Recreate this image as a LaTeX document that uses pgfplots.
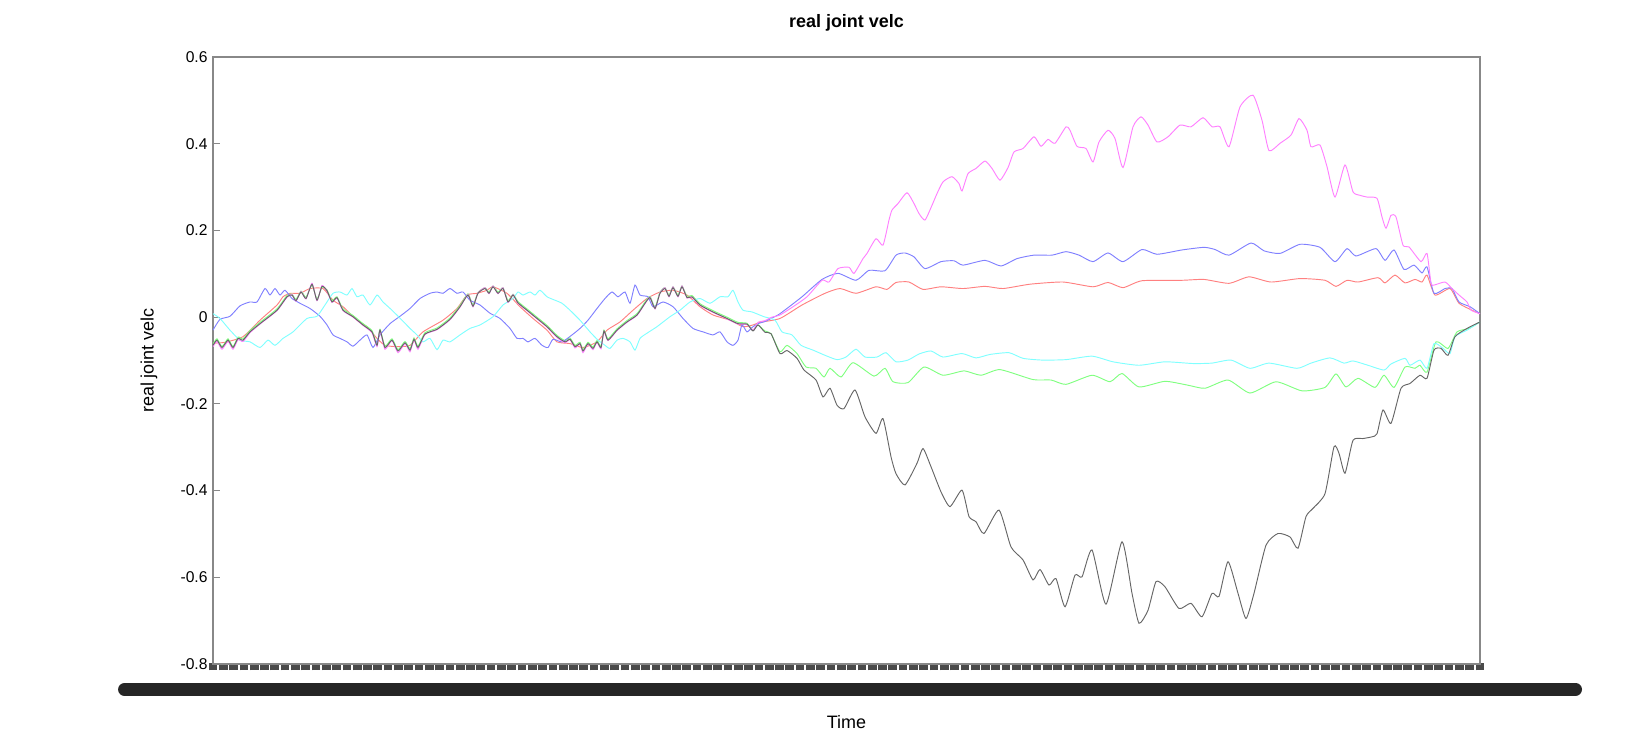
\documentclass[border=0pt]{standalone}
\usepackage{fontspec}
\setmainfont{Liberation Sans}
\usepackage{pgfplots}
\pgfplotsset{compat=1.18}
\definecolor{cR}{HTML}{FF8080}
\definecolor{cG}{HTML}{80FF80}
\definecolor{cB}{HTML}{8080FF}
\definecolor{cC}{HTML}{80FFFF}
\definecolor{cM}{HTML}{FF80FF}
\definecolor{cK}{HTML}{666666}
\definecolor{axgray}{HTML}{888888}
\definecolor{tickdark}{HTML}{4A4A4A}
\definecolor{barblack}{HTML}{262626}
\begin{document}
\begin{tikzpicture}
\path[use as bounding box] (-136.32pt,-54.4pt) rectangle (910.08pt,424.96pt);
\begin{axis}[
  scale only axis, width=810.88pt, height=388.48pt,
  xmin=213, xmax=1480, ymin=-0.8, ymax=0.6,
  axis line style={draw=axgray, line width=0.8pt},
  tick align=inside, xtick pos=bottom, ytick pos=left,
  major tick length=4.5pt,
  xtick={213,223.3,...,1480}, xticklabels={},
  xtick style={draw=tickdark, line width=5.6pt, yshift=-4.1pt},
  ytick={-0.8,-0.6,-0.4,-0.2,0,0.2,0.4,0.6},
  yticklabels={-0.8,-0.6,-0.4,-0.2,0,0.2,0.4,0.6},
  ytick style={draw=axgray, line width=0.8pt},
  yticklabel style={font=\normalsize},
  title={real joint velc},
  title style={at={(axis description cs:0.5,1)}, anchor=center, yshift=16pt, font=\bfseries\fontsize{11.5}{14}\selectfont},
  xlabel={Time},
  xlabel style={at={(axis description cs:0.5,0)}, anchor=center, yshift=-37pt, font=\fontsize{11.5}{14}\selectfont},
  ylabel={real joint velc},
  ylabel style={at={(axis description cs:0,0.5)}, anchor=center, yshift=41pt, font=\fontsize{11.5}{14}\selectfont},
  every axis plot/.append style={line width=0.6pt, mark=none, smooth, tension=0.35},
]
% red
\addplot[cR] coordinates {(213,-0.060) (225,-0.058) (243,-0.045) (260,-0.007) (277,0.028) (283,0.047) (290,0.055) (300,0.055) (310,0.066) (323,0.066) (333,0.039) (343,0.024) (357,-0.007) (367,-0.022) (377,-0.049) (385,-0.065) (397,-0.068) (410,-0.065) (423,-0.034) (443,-0.007) (457,0.020) (467,0.051) (477,0.055) (487,0.062) (493,0.070) (507,0.055) (520,0.024) (533,-0.003) (547,-0.030) (557,-0.057) (570,-0.061) (583,-0.070) (597,-0.057) (607,-0.030) (620,-0.011) (633,0.016) (647,0.043) (660,0.058) (673,0.062) (687,0.051) (700,0.024) (713,0.005) (730,-0.007) (743,-0.022) (753,-0.018) (760,-0.012) (780,-0.003) (802,0.028) (825,0.055) (840,0.066) (856,0.055) (876,0.070) (887,0.064) (896,0.080) (909,0.081) (923,0.064) (941,0.070) (963,0.066) (985,0.071) (1003,0.066) (1030,0.076) (1063,0.081) (1093,0.070) (1108,0.080) (1123,0.068) (1142,0.084) (1182,0.085) (1204,0.087) (1229,0.078) (1249,0.093) (1271,0.081) (1300,0.089) (1325,0.085) (1336,0.071) (1347,0.085) (1358,0.081) (1378,0.091) (1385,0.079) (1395,0.097) (1405,0.079) (1415,0.087) (1422,0.081) (1427,0.097) (1435,0.051) (1450,0.066) (1459,0.032) (1472,0.016) (1480,0.008)};
% green
\addplot[cG] coordinates {(213,-0.062) (217,-0.050) (222,-0.068) (228,-0.050) (233,-0.068) (238,-0.046) (243,-0.050) (250,-0.031) (260,-0.012) (277,0.019) (287,0.050) (292,0.053) (296,0.041) (301,0.060) (306,0.046) (312,0.074) (317,0.042) (322,0.069) (327,0.063) (332,0.038) (337,0.047) (343,0.019) (353,0.004) (363,-0.015) (372,-0.031) (377,-0.062) (380,-0.028) (385,-0.067) (392,-0.050) (398,-0.075) (405,-0.056) (410,-0.073) (414,-0.048) (418,-0.067) (425,-0.036) (437,-0.025) (450,-0.002) (460,0.027) (468,0.054) (473,0.028) (478,0.057) (485,0.068) (489,0.058) (493,0.072) (498,0.058) (503,0.068) (508,0.038) (513,0.053) (518,0.036) (527,0.019) (537,0.000) (547,-0.019) (557,-0.042) (565,-0.054) (570,-0.048) (575,-0.065) (580,-0.058) (583,-0.075) (588,-0.058) (593,-0.069) (597,-0.054) (601,-0.067) (604,-0.030) (608,-0.050) (617,-0.027) (627,-0.008) (637,0.008) (645,0.035) (650,0.048) (655,0.023) (660,0.058) (665,0.068) (669,0.051) (673,0.070) (678,0.051) (682,0.072) (687,0.048) (692,0.050) (700,0.031) (713,0.015) (727,0.000) (738,-0.012) (747,-0.014) (753,-0.030) (758,-0.018) (765,-0.032) (771,-0.038) (780,-0.080) (787,-0.065) (797,-0.084) (806,-0.115) (816,-0.118) (824,-0.138) (830,-0.118) (841,-0.138) (853,-0.105) (874,-0.136) (885,-0.118) (893,-0.149) (908,-0.151) (924,-0.115) (943,-0.134) (964,-0.124) (981,-0.134) (1000,-0.121) (1033,-0.144) (1051,-0.145) (1066,-0.155) (1092,-0.134) (1110,-0.149) (1122,-0.130) (1139,-0.161) (1165,-0.148) (1188,-0.157) (1205,-0.164) (1228,-0.145) (1250,-0.175) (1276,-0.149) (1302,-0.170) (1325,-0.162) (1336,-0.131) (1346,-0.161) (1358,-0.141) (1375,-0.162) (1384,-0.134) (1394,-0.162) (1405,-0.115) (1415,-0.118) (1420,-0.111) (1427,-0.127) (1436,-0.057) (1448,-0.072) (1457,-0.034) (1469,-0.026) (1480,-0.011)};
% blue
\addplot[cB] coordinates {(213,-0.030) (220,-0.005) (230,0.002) (240,0.026) (250,0.035) (257,0.035) (265,0.066) (270,0.051) (275,0.066) (280,0.051) (285,0.062) (292,0.043) (300,0.032) (310,0.020) (320,0.002) (327,-0.018) (333,-0.041) (340,-0.049) (347,-0.057) (353,-0.067) (360,-0.053) (367,-0.041) (373,-0.070) (380,-0.041) (390,-0.015) (400,0.002) (410,0.020) (420,0.043) (430,0.055) (437,0.058) (443,0.055) (450,0.066) (457,0.055) (463,0.058) (470,0.039) (480,0.028) (490,0.009) (500,-0.003) (510,-0.026) (517,-0.049) (523,-0.049) (528,-0.057) (535,-0.049) (542,-0.065) (548,-0.070) (553,-0.051) (562,-0.057) (572,-0.041) (580,-0.026) (588,-0.007) (597,0.020) (605,0.043) (612,0.058) (618,0.047) (625,0.058) (630,0.032) (635,0.074) (640,0.051) (648,0.047) (653,0.024) (663,0.035) (673,0.024) (683,-0.003) (693,-0.026) (703,-0.034) (713,-0.041) (720,-0.034) (727,-0.057) (733,-0.065) (738,-0.053) (742,-0.018) (747,-0.034) (753,-0.022) (758,-0.015) (765,-0.010) (772,-0.002) (780,0.008) (802,0.047) (822,0.087) (838,0.101) (856,0.085) (869,0.108) (885,0.107) (896,0.143) (905,0.148) (914,0.139) (925,0.112) (941,0.128) (954,0.130) (963,0.120) (985,0.131) (1001,0.118) (1017,0.135) (1034,0.143) (1052,0.143) (1066,0.151) (1079,0.143) (1093,0.128) (1108,0.148) (1123,0.128) (1142,0.156) (1157,0.145) (1182,0.155) (1204,0.161) (1215,0.156) (1229,0.143) (1251,0.171) (1264,0.153) (1280,0.147) (1300,0.168) (1320,0.161) (1335,0.128) (1347,0.158) (1356,0.141) (1376,0.158) (1385,0.131) (1394,0.155) (1404,0.110) (1414,0.120) (1422,0.102) (1427,0.116) (1434,0.055) (1445,0.066) (1452,0.066) (1459,0.035) (1470,0.024) (1480,0.008)};
% cyan
\addplot[cC] coordinates {(213,0.008) (220,-0.003) (230,-0.030) (240,-0.053) (250,-0.057) (260,-0.070) (268,-0.053) (275,-0.065) (283,-0.049) (293,-0.034) (307,-0.003) (317,0.002) (325,0.028) (333,0.055) (340,0.058) (347,0.051) (352,0.066) (357,0.047) (363,0.051) (370,0.028) (377,0.051) (383,0.035) (392,0.016) (402,-0.007) (410,-0.026) (417,-0.041) (423,-0.057) (430,-0.049) (437,-0.075) (443,-0.053) (450,-0.057) (460,-0.041) (470,-0.026) (480,-0.018) (493,0.001) (503,0.028) (513,0.043) (518,0.058) (523,0.051) (530,0.058) (535,0.051) (540,0.062) (547,0.047) (555,0.039) (562,0.032) (570,0.016) (580,-0.007) (590,-0.034) (598,-0.053) (605,-0.065) (610,-0.072) (617,-0.053) (623,-0.049) (630,-0.057) (635,-0.076) (640,-0.049) (647,-0.037) (657,-0.022) (670,0.001) (680,0.016) (690,0.035) (700,0.043) (710,0.032) (720,0.047) (728,0.047) (733,0.062) (738,0.035) (743,0.016) (752,0.012) (764,0.001) (775,-0.007) (782,-0.034) (792,-0.041) (801,-0.065) (813,-0.076) (825,-0.088) (837,-0.098) (846,-0.092) (856,-0.074) (865,-0.092) (877,-0.092) (886,-0.082) (896,-0.103) (908,-0.099) (919,-0.085) (931,-0.078) (943,-0.092) (962,-0.084) (976,-0.094) (990,-0.086) (1009,-0.082) (1023,-0.095) (1042,-0.099) (1066,-0.098) (1092,-0.090) (1113,-0.103) (1139,-0.111) (1165,-0.103) (1193,-0.107) (1212,-0.106) (1231,-0.099) (1250,-0.118) (1269,-0.106) (1297,-0.118) (1311,-0.106) (1330,-0.094) (1344,-0.106) (1353,-0.101) (1368,-0.111) (1384,-0.122) (1391,-0.108) (1405,-0.095) (1410,-0.111) (1420,-0.099) (1427,-0.118) (1434,-0.061) (1443,-0.072) (1450,-0.084) (1455,-0.045) (1467,-0.030) (1480,-0.011)};
% magenta
\addplot[cM] coordinates {(213,-0.068) (217,-0.056) (222,-0.074) (228,-0.056) (233,-0.074) (238,-0.052) (243,-0.056) (250,-0.036) (260,-0.016) (277,0.015) (287,0.046) (292,0.052) (296,0.037) (301,0.059) (306,0.042) (312,0.078) (317,0.038) (322,0.073) (327,0.060) (332,0.034) (337,0.044) (343,0.015) (353,0.000) (363,-0.019) (372,-0.036) (377,-0.068) (380,-0.031) (385,-0.074) (392,-0.054) (398,-0.082) (405,-0.061) (410,-0.080) (414,-0.052) (418,-0.074) (425,-0.040) (437,-0.029) (450,-0.006) (460,0.023) (468,0.052) (473,0.024) (478,0.056) (485,0.068) (489,0.054) (493,0.072) (498,0.054) (503,0.068) (508,0.034) (513,0.052) (518,0.032) (527,0.015) (537,-0.004) (547,-0.023) (557,-0.047) (565,-0.059) (570,-0.052) (575,-0.071) (580,-0.062) (583,-0.082) (588,-0.062) (593,-0.075) (597,-0.058) (601,-0.073) (604,-0.033) (608,-0.054) (617,-0.031) (627,-0.012) (637,0.004) (645,0.031) (650,0.046) (655,0.019) (660,0.056) (665,0.068) (669,0.047) (673,0.070) (678,0.047) (682,0.072) (687,0.044) (692,0.046) (700,0.027) (713,0.011) (727,-0.004) (738,-0.016) (747,-0.017) (753,-0.030) (758,-0.012) (765,-0.008) (772,0.000) (780,0.005) (793,0.024) (807,0.047) (822,0.085) (829,0.081) (838,0.112) (849,0.115) (854,0.101) (863,0.135) (867,0.147) (876,0.181) (883,0.166) (889,0.224) (892,0.247) (898,0.262) (907,0.287) (914,0.262) (919,0.239) (925,0.224) (932,0.258) (937,0.285) (943,0.312) (952,0.324) (959,0.308) (962,0.291) (968,0.331) (976,0.343) (985,0.360) (992,0.343) (1000,0.316) (1008,0.345) (1014,0.381) (1023,0.389) (1034,0.416) (1041,0.394) (1048,0.410) (1055,0.401) (1066,0.439) (1070,0.431) (1077,0.394) (1086,0.389) (1093,0.358) (1099,0.404) (1108,0.431) (1115,0.412) (1123,0.345) (1133,0.439) (1141,0.462) (1148,0.443) (1157,0.404) (1168,0.416) (1180,0.443) (1191,0.439) (1203,0.460) (1212,0.439) (1220,0.439) (1229,0.393) (1240,0.485) (1253,0.512) (1262,0.454) (1269,0.384) (1280,0.401) (1291,0.420) (1299,0.458) (1307,0.431) (1311,0.393) (1320,0.397) (1327,0.347) (1335,0.277) (1345,0.351) (1353,0.289) (1360,0.281) (1367,0.277) (1377,0.274) (1382,0.231) (1386,0.205) (1391,0.235) (1396,0.231) (1403,0.166) (1409,0.162) (1421,0.128) (1427,0.147) (1431,0.078) (1434,0.074) (1445,0.081) (1452,0.066) (1459,0.051) (1467,0.035) (1471,0.016) (1480,0.008)};
% black
\addplot[cK] coordinates {(213,-0.065) (217,-0.053) (222,-0.070) (228,-0.053) (233,-0.070) (238,-0.049) (243,-0.053) (250,-0.034) (260,-0.015) (277,0.016) (287,0.047) (292,0.051) (296,0.038) (301,0.058) (306,0.043) (312,0.076) (317,0.039) (322,0.071) (327,0.061) (332,0.035) (337,0.045) (343,0.016) (353,0.001) (363,-0.018) (372,-0.034) (377,-0.065) (380,-0.030) (385,-0.070) (392,-0.053) (398,-0.078) (405,-0.059) (410,-0.076) (414,-0.051) (418,-0.070) (425,-0.039) (437,-0.028) (450,-0.005) (460,0.024) (468,0.051) (473,0.025) (478,0.055) (485,0.066) (489,0.055) (493,0.070) (498,0.055) (503,0.066) (508,0.035) (513,0.051) (518,0.033) (527,0.016) (537,-0.003) (547,-0.022) (557,-0.045) (565,-0.057) (570,-0.051) (575,-0.068) (580,-0.061) (583,-0.078) (588,-0.061) (593,-0.072) (597,-0.057) (601,-0.070) (604,-0.032) (608,-0.053) (617,-0.030) (627,-0.011) (637,0.005) (645,0.032) (650,0.045) (655,0.020) (660,0.055) (665,0.066) (669,0.048) (673,0.068) (678,0.048) (682,0.070) (687,0.045) (692,0.047) (700,0.028) (713,0.012) (727,-0.003) (738,-0.015) (747,-0.016) (753,-0.032) (758,-0.018) (765,-0.035) (771,-0.038) (780,-0.084) (787,-0.077) (797,-0.095) (804,-0.122) (816,-0.145) (823,-0.184) (830,-0.164) (837,-0.203) (844,-0.211) (855,-0.168) (865,-0.230) (876,-0.268) (883,-0.234) (891,-0.322) (896,-0.361) (905,-0.387) (917,-0.337) (923,-0.303) (931,-0.345) (941,-0.403) (950,-0.437) (962,-0.399) (969,-0.460) (976,-0.472) (984,-0.499) (999,-0.445) (1011,-0.530) (1023,-0.560) (1033,-0.606) (1040,-0.582) (1049,-0.618) (1056,-0.603) (1065,-0.668) (1075,-0.595) (1082,-0.599) (1092,-0.537) (1106,-0.662) (1122,-0.518) (1132,-0.637) (1139,-0.706) (1148,-0.676) (1156,-0.610) (1165,-0.622) (1179,-0.672) (1191,-0.660) (1202,-0.691) (1212,-0.637) (1219,-0.644) (1228,-0.564) (1238,-0.637) (1246,-0.695) (1254,-0.637) (1266,-0.526) (1278,-0.499) (1290,-0.507) (1298,-0.533) (1306,-0.460) (1313,-0.441) (1325,-0.407) (1334,-0.299) (1339,-0.314) (1345,-0.360) (1353,-0.284) (1363,-0.280) (1372,-0.276) (1377,-0.269) (1383,-0.214) (1391,-0.245) (1401,-0.164) (1410,-0.153) (1420,-0.134) (1427,-0.141) (1434,-0.076) (1441,-0.072) (1448,-0.088) (1455,-0.045) (1467,-0.026) (1480,-0.011)};
\end{axis}
% overlapping tick labels below the axis, drawn as a solid bar
\draw[line width=8.3pt, line cap=round, draw=barblack] (-56.6pt,-16.3pt) -- (872pt,-16.3pt);
\end{tikzpicture}
\end{document}
